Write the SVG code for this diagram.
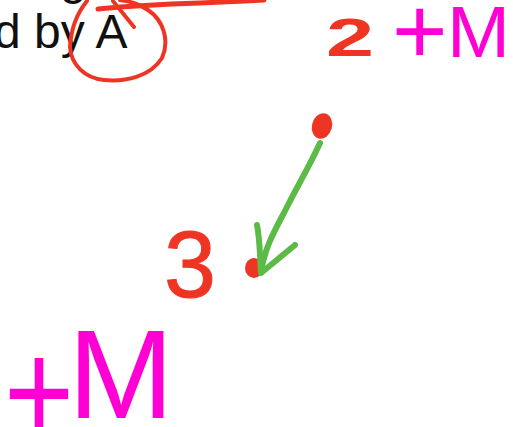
<svg xmlns="http://www.w3.org/2000/svg" width="513" height="427" viewBox="0 0 513 427">
<style>
.print{font-family:"Liberation Sans",Arial,sans-serif;font-size:48px;fill:#111}
.red{fill:#ee3524}
.mag{fill:#ff00d4}
.hand{font-family:"Liberation Sans",Arial,sans-serif}
.ink{fill:none;stroke-linecap:round;stroke-linejoin:round}
</style>
<rect width="513" height="427" fill="#fff"/>
<g id="printed">
<text class="print" x="60" y="-6">g</text>
<text class="print" x="-6" y="48">d by A</text>
</g>
<g id="circle-mark" class="ink" stroke="#ee3524" stroke-width="4">
<path d="M87,1 C78,12 71,28 70,47 C71,64 84,78 104,80 C125,82 150,77 162,58 C170,40 163,20 148,10 C138,3 128,1 120,0"/>
<path d="M113,1 L134,27"/>
<path d="M98,9 C130,6 170,4 200,3 C225,2 245,1 264,0" stroke-width="5"/>
</g>
<g id="node2">
<text class="hand red" transform="translate(326,56) scale(1.6,1)" font-size="54" font-weight="bold">2</text>
<text class="hand mag" x="392" y="63" font-size="95">+</text>
<text class="hand mag" x="447" y="57" font-size="73" textLength="63" lengthAdjust="spacingAndGlyphs">M</text>
<ellipse class="red" cx="322" cy="126" rx="10" ry="13" transform="rotate(15 322 126)"/>
</g>
<g id="node3">
<text class="hand red" x="164" y="297" font-size="95" stroke="#ee3524" stroke-width="1" textLength="52" lengthAdjust="spacingAndGlyphs">3</text>
<ellipse class="red" cx="254" cy="268" rx="9" ry="10"/>
</g>
<g id="nodeM">
<text class="hand mag" transform="translate(4,442) scale(1,1.2)" font-size="120">+</text>
<text class="hand mag" x="68" y="418" font-size="127">M</text>
</g>
<g id="connectors" class="ink" stroke="#5cba47" stroke-width="6">
<path d="M320,143 C310,165 298,185 288,205 C278,225 265,245 261,272"/>
<path d="M257,225 C260,240 260,258 261,273 L295,245"/>
</g>
</svg>
